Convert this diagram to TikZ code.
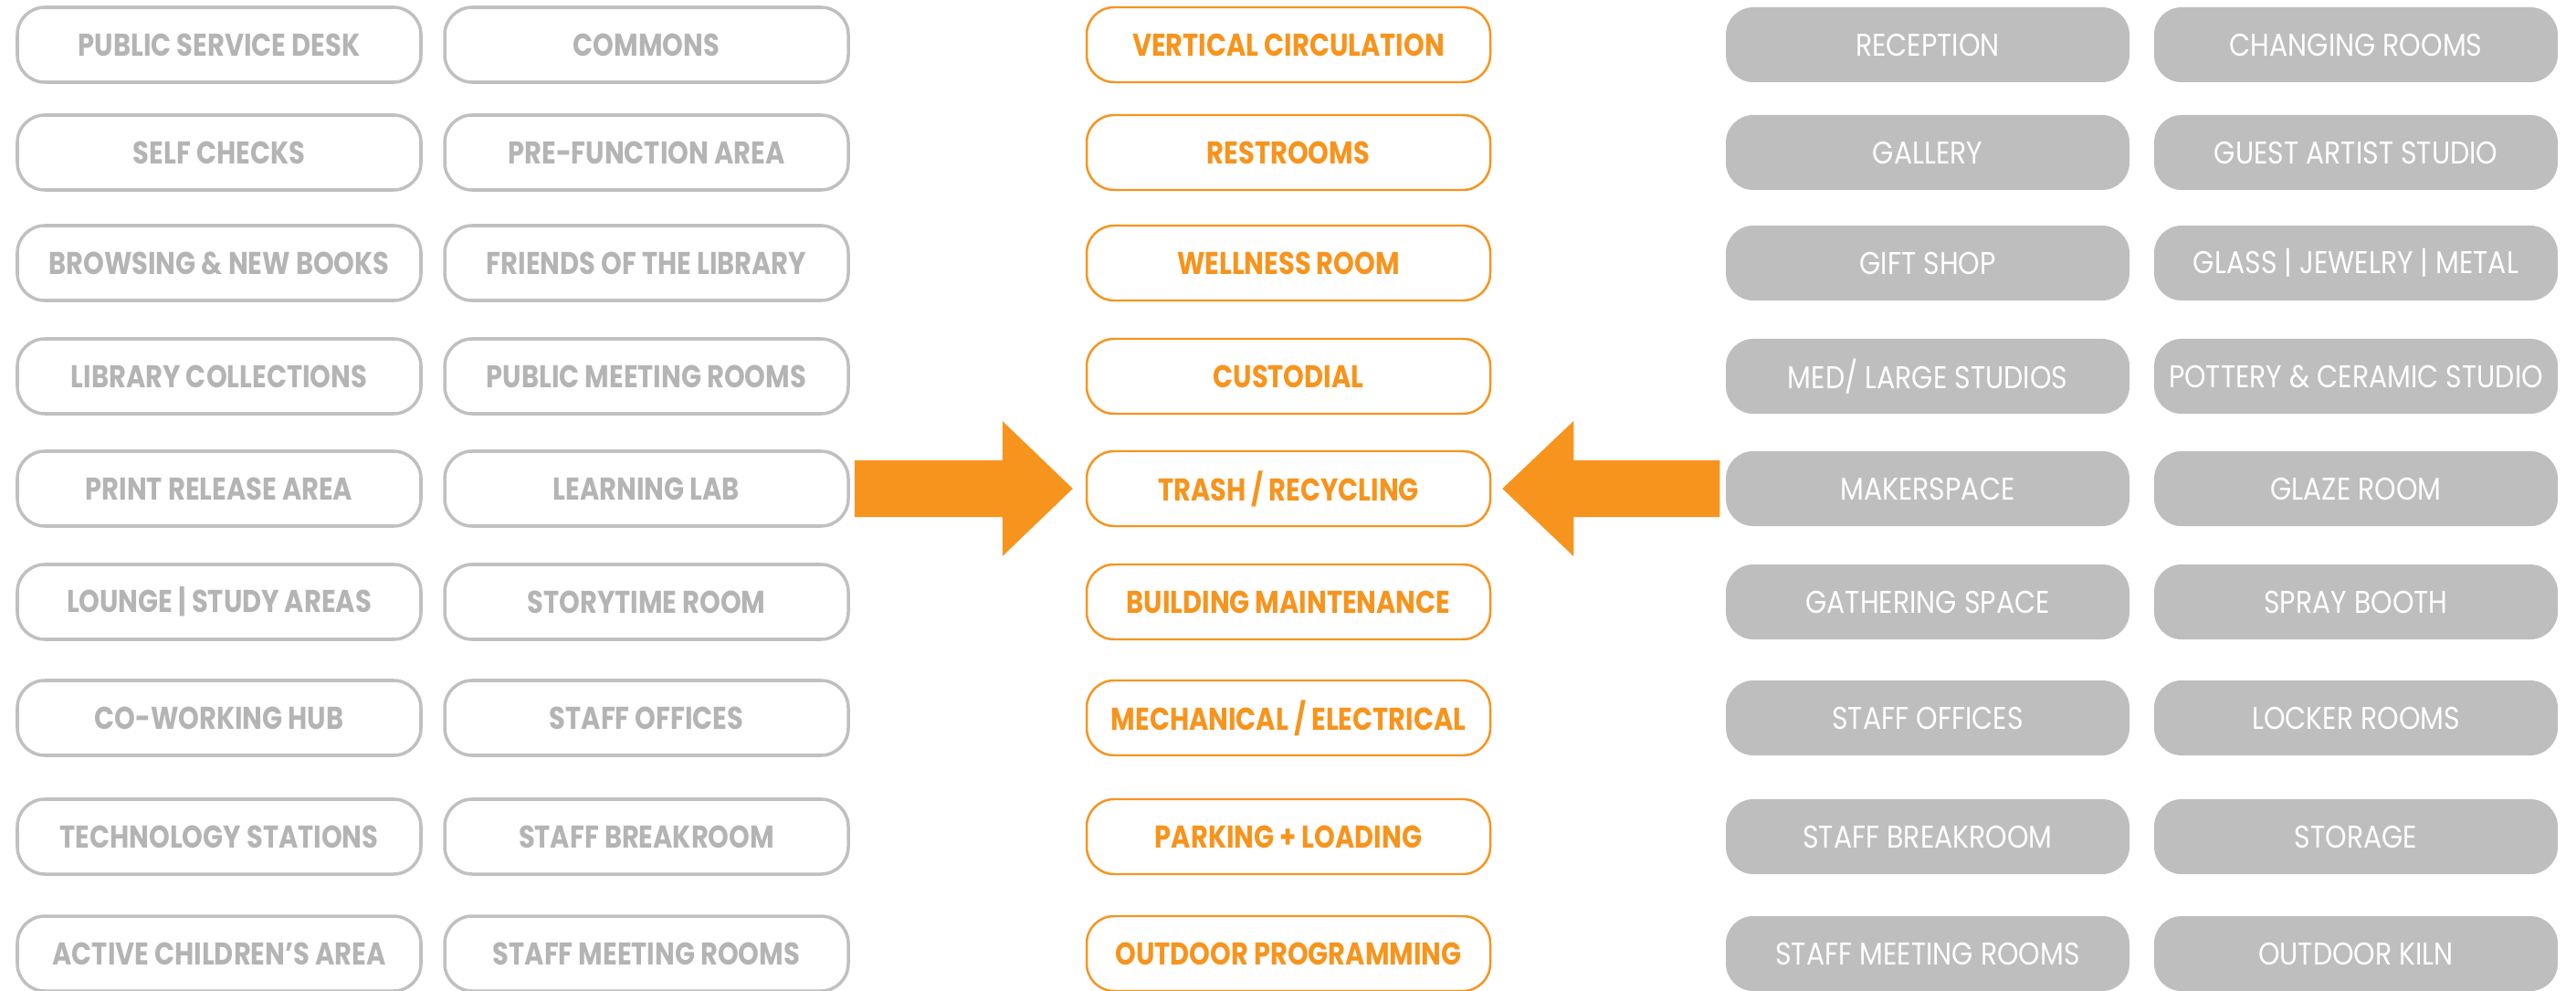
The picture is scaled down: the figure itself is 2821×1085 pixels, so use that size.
\documentclass[tikz,border=0pt]{standalone}
\usepackage{fontspec}
\setmainfont{Poppins}
\newfontfamily\narrowfont{Poppins}[FakeStretch=0.84]
\newfontfamily\slimfont{Poppins}[FakeStretch=0.87]
\usetikzlibrary{calc}
\definecolor{amber}{HTML}{F7941D}
\definecolor{ashline}{HTML}{C0C0C0}
\definecolor{ashtext}{HTML}{B4B4B4}
\definecolor{ashfill}{HTML}{BEBEBE}
\tikzset{
  room/.style={minimum width=4.42cm, minimum height=0.82cm, inner sep=0pt,
    rounded corners=0.3cm, font=\narrowfont\bfseries\fontsize{9.8}{11}\selectfont},
  libroom/.style={room, draw=ashline, line width=1pt, text=ashtext},
  coreroom/.style={room, draw=amber, line width=0.7pt, text=amber},
  artroom/.style={room, fill=ashfill, text=white, font=\slimfont\fontsize{9.8}{11}\selectfont},
  bigarrow/.style={fill=amber},
}
\def\rowy{{49,167,288,412,535,659,786,916,1044}}

\begin{document}
\begin{tikzpicture}[x=0.1mm,y=-0.1mm]
  \useasboundingbox (0,0) rectangle (2821,1085);

  % library spaces
  \foreach \txt [count=\i] in {PUBLIC SERVICE DESK, SELF CHECKS, BROWSING \& NEW BOOKS,
      LIBRARY COLLECTIONS, PRINT RELEASE AREA, LOUNGE | STUDY AREAS, CO-WORKING HUB,
      TECHNOLOGY STATIONS, ACTIVE CHILDREN’S AREA}{
    \pgfmathsetmacro{\y}{\rowy[\i-1]}
    \node[libroom] (libA\i) at (240,\y) {\txt};
  }
  \foreach \txt [count=\i] in {COMMONS, PRE-FUNCTION AREA, FRIENDS OF THE LIBRARY,
      PUBLIC MEETING ROOMS, LEARNING LAB, STORYTIME ROOM, STAFF OFFICES,
      STAFF BREAKROOM, STAFF MEETING ROOMS}{
    \pgfmathsetmacro{\y}{\rowy[\i-1]}
    \node[libroom] (libB\i) at (708,\y) {\txt};
  }

  % shared spaces
  \foreach \txt [count=\i] in {VERTICAL CIRCULATION, RESTROOMS, WELLNESS ROOM,
      CUSTODIAL, TRASH / RECYCLING, BUILDING MAINTENANCE, MECHANICAL / ELECTRICAL,
      PARKING + LOADING, OUTDOOR PROGRAMMING}{
    \pgfmathsetmacro{\y}{\rowy[\i-1]}
    \node[coreroom] (core\i) at (1411,\y) {\txt};
  }

  % art center spaces
  \foreach \txt [count=\i] in {RECEPTION, GALLERY, GIFT SHOP, MED/ LARGE STUDIOS,
      MAKERSPACE, GATHERING SPACE, STAFF OFFICES, STAFF BREAKROOM,
      STAFF MEETING ROOMS}{
    \pgfmathsetmacro{\y}{\rowy[\i-1]}
    \node[artroom] (artA\i) at (2111,\y) {\txt};
  }
  \foreach \txt [count=\i] in {CHANGING ROOMS, GUEST ARTIST STUDIO,
      GLASS | JEWELRY | METAL, POTTERY \& CERAMIC STUDIO, GLAZE ROOM, SPRAY BOOTH,
      LOCKER ROOMS, STORAGE, OUTDOOR KILN}{
    \pgfmathsetmacro{\y}{\rowy[\i-1]}
    \node[artroom] (artB\i) at (2580,\y) {\txt};
  }

  % block arrows into the shared column
  \fill[bigarrow] ($(libB5.east)+(5,-31)$) -- ($(core5.west)+(-91,-31)$)
    -- ($(core5.west)+(-91,-74)$) -- ($(core5.west)+(-14,0)$)
    -- ($(core5.west)+(-91,74)$) -- ($(core5.west)+(-91,31)$)
    -- ($(libB5.east)+(5,31)$) -- cycle;
  \fill[bigarrow] ($(artA5.west)+(-6,-31)$) -- ($(core5.east)+(90,-31)$)
    -- ($(core5.east)+(90,-74)$) -- ($(core5.east)+(12,0)$)
    -- ($(core5.east)+(90,74)$) -- ($(core5.east)+(90,31)$)
    -- ($(artA5.west)+(-6,31)$) -- cycle;
\end{tikzpicture}
\end{document}
